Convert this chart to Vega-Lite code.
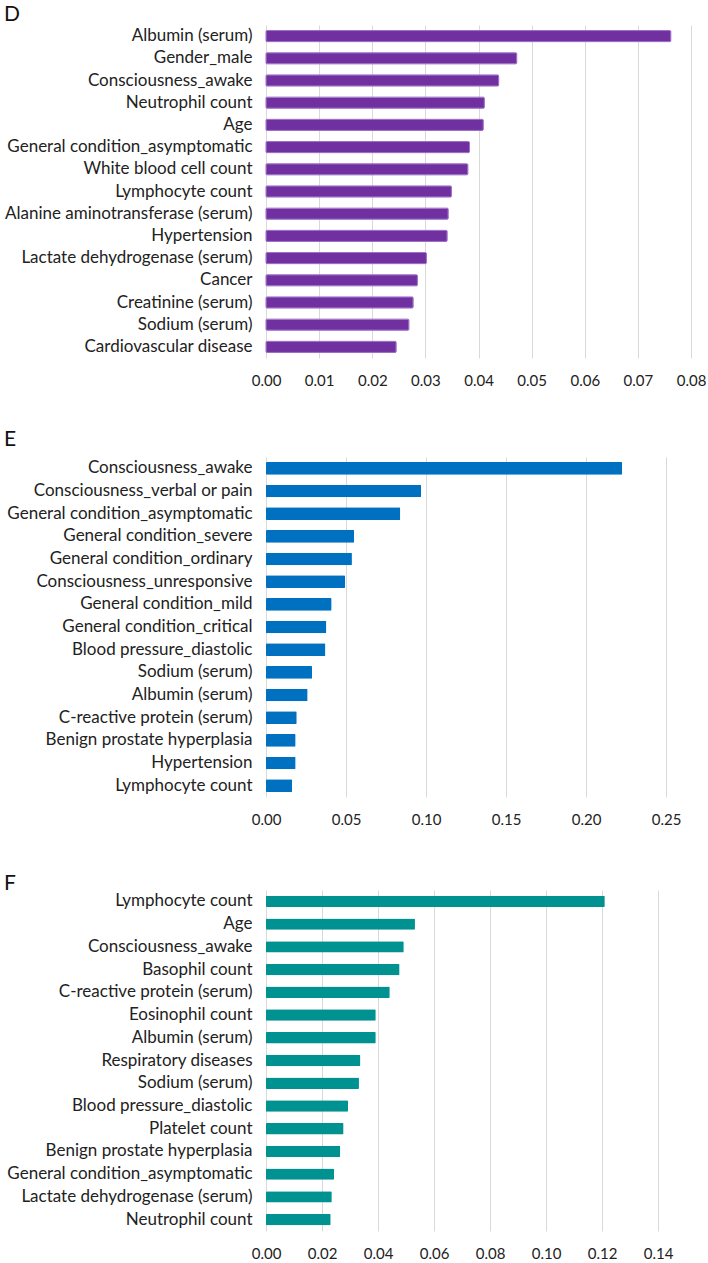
{
  "$schema": "https://vega.github.io/schema/vega-lite/v6.json",
  "padding": {"left": 4, "top": 4, "right": 0, "bottom": 0},
  "background": "white",
  "spacing": 99,
  "bounds": "flush",
  "config": {
    "view": {"stroke": null},
    "font": "Lato",
    "title": {"font": "Lato", "fontSize": 21, "fontWeight": "normal", "anchor": "start", "frame": "bounds", "color": "#111111"},
    "axis": {"labelFont": "Lato", "labelColor": "#222222", "titleFont": "Lato"},
    "axisY": {"ticks": false, "domain": false, "grid": false, "labelFontSize": 17, "labelPadding": 14, "labelLimit": 300, "minExtent": 262, "maxExtent": 262, "title": null},
    "axisX": {"ticks": false, "domain": false, "grid": true, "gridColor": "#d9d9d9", "gridWidth": 1, "labelFontSize": 15, "labelPadding": 15, "title": null, "labelFlush": false}
  },
  "datasets": {
    "D": [
      {"feature": "Albumin (serum)", "value": 0.0762},
      {"feature": "Gender_male", "value": 0.0472},
      {"feature": "Consciousness_awake", "value": 0.0438},
      {"feature": "Neutrophil count", "value": 0.0411},
      {"feature": "Age", "value": 0.0409},
      {"feature": "General condition_asymptomatic", "value": 0.0383},
      {"feature": "White blood cell count", "value": 0.0380},
      {"feature": "Lymphocyte count", "value": 0.0349},
      {"feature": "Alanine aminotransferase (serum)", "value": 0.0343},
      {"feature": "Hypertension", "value": 0.0341},
      {"feature": "Lactate dehydrogenase (serum)", "value": 0.0302},
      {"feature": "Cancer", "value": 0.0285},
      {"feature": "Creatinine (serum)", "value": 0.0277},
      {"feature": "Sodium (serum)", "value": 0.0269},
      {"feature": "Cardiovascular disease", "value": 0.0245}
    ],
    "E": [
      {"feature": "Consciousness_awake", "value": 0.2226},
      {"feature": "Consciousness_verbal or pain", "value": 0.0969},
      {"feature": "General condition_asymptomatic", "value": 0.0839},
      {"feature": "General condition_severe", "value": 0.0551},
      {"feature": "General condition_ordinary", "value": 0.0537},
      {"feature": "Consciousness_unresponsive", "value": 0.0494},
      {"feature": "General condition_mild", "value": 0.0410},
      {"feature": "General condition_critical", "value": 0.0377},
      {"feature": "Blood pressure_diastolic", "value": 0.0371},
      {"feature": "Sodium (serum)", "value": 0.0288},
      {"feature": "Albumin (serum)", "value": 0.0260},
      {"feature": "C-reactive protein (serum)", "value": 0.0192},
      {"feature": "Benign prostate hyperplasia", "value": 0.0185},
      {"feature": "Hypertension", "value": 0.0185},
      {"feature": "Lymphocyte count", "value": 0.0163}
    ],
    "F": [
      {"feature": "Lymphocyte count", "value": 0.1210},
      {"feature": "Age", "value": 0.0532},
      {"feature": "Consciousness_awake", "value": 0.0492},
      {"feature": "Basophil count", "value": 0.0477},
      {"feature": "C-reactive protein (serum)", "value": 0.0442},
      {"feature": "Eosinophil count", "value": 0.0392},
      {"feature": "Albumin (serum)", "value": 0.0392},
      {"feature": "Respiratory diseases", "value": 0.0337},
      {"feature": "Sodium (serum)", "value": 0.0332},
      {"feature": "Blood pressure_diastolic", "value": 0.0293},
      {"feature": "Platelet count", "value": 0.0277},
      {"feature": "Benign prostate hyperplasia", "value": 0.0265},
      {"feature": "General condition_asymptomatic", "value": 0.0243},
      {"feature": "Lactate dehydrogenase (serum)", "value": 0.0235},
      {"feature": "Neutrophil count", "value": 0.0231}
    ]
  },
  "vconcat": [
    {
      "title": {"text": "D", "offset": 0},
      "width": 425,
      "height": 333,
      "data": {"name": "D"},
      "mark": {"type": "bar", "color": "#7030a0", "stroke": "#9b6cc4", "strokeWidth": 1, "cornerRadius": 1},
      "encoding": {
        "y": {"field": "feature", "type": "nominal", "sort": null, "scale": {"paddingInner": 0.5, "paddingOuter": 0.25}},
        "x": {"field": "value", "type": "quantitative", "scale": {"domain": [0, 0.08], "nice": false}, "axis": {"values": [0, 0.01, 0.02, 0.03, 0.04, 0.05, 0.06, 0.07, 0.08], "format": ".2f"}}
      }
    },
    {
      "spacing": 93,
      "bounds": "flush",
      "vconcat": [
        {
          "title": {"text": "E", "offset": 7},
          "width": 400,
          "height": 340,
          "data": {"name": "E"},
          "mark": {"type": "bar", "color": "#0070c0", "cornerRadius": 1},
          "encoding": {
            "y": {"field": "feature", "type": "nominal", "sort": null, "scale": {"paddingInner": 0.44, "paddingOuter": 0.22}},
            "x": {"field": "value", "type": "quantitative", "scale": {"domain": [0, 0.25], "nice": false}, "axis": {"values": [0, 0.05, 0.1, 0.15, 0.2, 0.25], "format": ".2f"}}
          }
        },
        {
          "title": {"text": "F", "offset": -4},
          "width": 392,
          "height": 341,
          "data": {"name": "F"},
          "mark": {"type": "bar", "color": "#009191", "cornerRadius": 1},
          "encoding": {
            "y": {"field": "feature", "type": "nominal", "sort": null, "scale": {"paddingInner": 0.5, "paddingOuter": 0.25}},
            "x": {"field": "value", "type": "quantitative", "scale": {"domain": [0, 0.14], "nice": false}, "axis": {"values": [0, 0.02, 0.04, 0.06, 0.08, 0.1, 0.12, 0.14], "format": ".2f"}}
          }
        }
      ]
    }
  ]
}
